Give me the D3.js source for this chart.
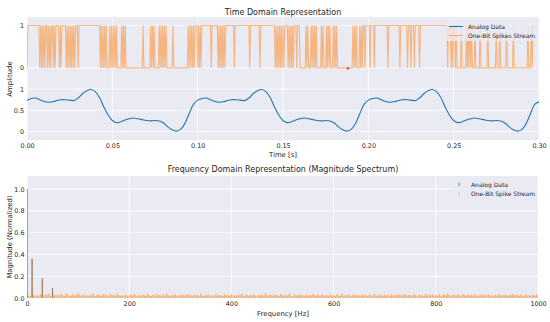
<!DOCTYPE html>
<html><head><meta charset="utf-8">
<script src="https://cdn.jsdelivr.net/npm/d3@7"></script>
<style>body{margin:0;background:#fff}svg{display:block}text{font-family:"DejaVu Sans",sans-serif;fill:#262626}</style>
</head><body><svg id="c" width="550" height="322"></svg>
<script>
// ---------- DATA ----------
// Analog signal, sampled every 2.5 ms from 0 to 0.30 s
const analogStep = 0.0025;
const analogValues = [
 0.73,0.78,0.79,0.75,0.71,0.69,0.70,0.73,0.75,0.75,0.74,0.73,0.79,0.89,0.96,0.99,0.94,0.80,0.58,0.39,
 0.26,0.21,0.23,0.27,0.30,0.32,0.30,0.28,0.26,0.25,0.26,0.25,0.20,0.11,0.04,0.01,0.05,0.19,0.42,0.64,
 0.74,0.78,0.79,0.75,0.71,0.69,0.70,0.73,0.75,0.75,0.74,0.73,0.79,0.89,0.96,0.99,0.94,0.80,0.58,0.39,
 0.26,0.21,0.23,0.27,0.30,0.32,0.30,0.28,0.26,0.25,0.26,0.25,0.20,0.11,0.04,0.01,0.05,0.19,0.42,0.64,
 0.74,0.78,0.79,0.75,0.71,0.69,0.70,0.73,0.75,0.75,0.74,0.73,0.79,0.89,0.96,0.99,0.94,0.80,0.58,0.39,
 0.26,0.21,0.23,0.27,0.30,0.32,0.30,0.28,0.26,0.25,0.26,0.25,0.20,0.11,0.04,0.01,0.05,0.19,0.42,0.64,
 0.70
];
// One-bit spike stream, one bit every 0.5 ms (each string = 50 ms)
const spikeStep = 0.0005;
const spikeBits = [
 "0111111111"+"1111101010"+"1011010101"+"1010111101"+"0111110101"+"0101010111"+"0111111111"+"1111111111"+"1111110101"+"0101000101",
 "0101010000"+"0101010000"+"0000000000"+"0000001000"+"0000010101"+"0000010101"+"0101000000"+"0100000000"+"0000000001"+"0101010111",
 "0101011111"+"1111110111"+"1111010101"+"0101111111"+"1110111111"+"1111111111"+"1011111111"+"1110111111"+"1111111111"+"1010101010",
 "1011110101"+"0101110111"+"0000000101"+"0001010101"+"0000010100"+"0101010001"+"0101000000"+"0000000000"+"0010101000"+"1010110111",
 "1101111011"+"1111111111"+"1110111111"+"1111111011"+"1111110111"+"0111011111"+"0111111111"+"1111111111"+"1111111111"+"1110111010",
 "1101000001"+"0000010101"+"0100010000"+"0100000000"+"1000000000"+"1000100000"+"0010000000"+"1000000000"+"0000000100"+"0101111111"
];
const spikeOffset = 1.5;
const redMarker = [[0.188, 0]];
const timeTicks = [0, 0.05, 0.10, 0.15, 0.20, 0.25, 0.30];
const ampTicks = [0, 0.5, 1, 1.5, 2.5];
const ampTickLabels = ["0", "0.5", "1", "0", "1"];

// Spectrum
const freqBinHz = 1000 / 300;
const analogFreqs = [0, 10, 30, 50];
const analogMags = [1.0, 0.36, 0.18, 0.09];
// one-bit spectrum magnitude per bin (x 0.001), bins 0..300
const spikeMagMilli = [
 1000,22,18,355,25,16,27,19,31,178,21,33,24,38,18,88,29,20,32,17,36,23,19,42,26,17,22,34,20,28,
 48,24,18,35,21,27,16,30,22,39,19,25,33,18,24,37,21,28,16,34,22,30,19,41,25,18,27,21,33,17,
 23,31,19,36,22,15,28,20,32,25,18,38,23,19,30,16,35,22,27,20,31,18,44,24,19,28,22,34,16,25,
 20,32,24,18,37,22,28,19,31,15,27,21,40,23,18,30,22,33,19,25,16,36,21,28,24,18,32,22,27,19,
 34,21,25,16,30,23,39,19,22,31,18,27,21,35,24,16,28,22,33,19,46,21,25,30,18,33,22,27,19,36,
 24,16,30,21,40,22,18,31,25,19,34,23,28,16,32,21,27,22,37,18,25,30,19,33,24,21,28,16,35,22,
 27,19,31,24,18,38,21,28,22,32,16,25,34,21,30,24,19,36,22,27,18,31,25,21,41,19,28,24,33,18,
 25,22,31,16,35,21,27,24,32,19,30,22,37,18,25,28,21,34,24,16,31,22,27,19,38,21,30,24,33,18,
 28,22,35,19,25,31,21,40,24,18,30,27,21,33,22,16,36,25,19,31,24,28,21,37,18,27,22,32,19,30,
 24,34,21,25,16,31,22,38,19,28,24,33,18,27,22,36,21,30,25,19,32,24,16,35,22,27,21,31,19,34,25
];
const freqTicks = [0, 200, 400, 600, 800, 1000];
const magTicks = [0, 0.2, 0.4, 0.6, 0.8, 1.0];

// ---------- DRAW ----------
const svg = d3.select("#c");
const BLUE = "#1f77b4", ORANGE = "#ff7f0e", BG = "#eaeaf2";
const TICK_FS = 6.4;
const defs = svg.append("defs");
defs.append("clipPath").attr("id", "clipTop").append("rect").attr("x", 27).attr("y", 17).attr("width", 512).attr("height", 123);
defs.append("clipPath").attr("id", "clipBot").append("rect").attr("x", 27).attr("y", 176).attr("width", 511).attr("height", 122);

// Top panel
const x1 = d3.scaleLinear().domain([0, 0.3]).range([27, 539]);
const y1 = d3.scaleLinear().domain([-0.2, 2.7]).range([140, 17]);
const g1 = svg.append("g");
g1.append("rect").attr("x", 27).attr("y", 17).attr("width", 512).attr("height", 123).attr("fill", BG);
g1.append("g").selectAll("line").data(timeTicks).join("line")
  .attr("x1", d => x1(d)).attr("x2", d => x1(d)).attr("y1", 17).attr("y2", 140)
  .attr("stroke", "#fff").attr("stroke-width", 0.8);
g1.append("g").selectAll("line").data(ampTicks).join("line")
  .attr("x1", 27).attr("x2", 539).attr("y1", d => y1(d)).attr("y2", d => y1(d))
  .attr("stroke", "#fff").attr("stroke-width", 0.8);

const axB1 = d3.axisBottom(x1).tickValues(timeTicks).tickFormat(d3.format(".2f")).tickSize(0).tickPadding(3);
const gx1 = g1.append("g").attr("transform", "translate(0,140)").call(axB1);
const axL1 = d3.axisLeft(y1).tickValues(ampTicks).tickFormat((d, i) => ampTickLabels[i]).tickSize(0).tickPadding(3);
const gy1 = g1.append("g").attr("transform", "translate(27,0)").call(axL1);
[gx1, gy1].forEach(g => { g.select(".domain").remove(); g.selectAll("text").attr("font-size", TICK_FS).style("fill", "#262626"); });

const p1 = g1.append("g").attr("clip-path", "url(#clipTop)");
// spike stream
const bits = spikeBits.join("").split("").map(Number);
const spikeLine = d3.line().x((d, i) => x1(i * spikeStep)).y(d => y1(d + spikeOffset));
p1.append("path").datum(bits).attr("d", spikeLine).attr("fill", "none")
  .attr("stroke", ORANGE).attr("stroke-opacity", 0.5).attr("stroke-width", 1.1);
// analog
const analogLine = d3.line().x((d, i) => x1(i * analogStep)).y(d => y1(d)).curve(d3.curveCatmullRom);
p1.append("path").datum(analogValues).attr("d", analogLine).attr("fill", "none")
  .attr("stroke", BLUE).attr("stroke-width", 1.1);
p1.selectAll("rect.mk").data(redMarker).join("rect").attr("class", "mk")
  .attr("x", d => x1(d[0]) - 1).attr("y", d => y1(d[1] + spikeOffset) - 0.5).attr("width", 2).attr("height", 2).attr("fill", "#e8262a");

// top legend
const lg1 = g1.append("g");
lg1.append("rect").attr("x", 445).attr("y", 20).attr("width", 93).attr("height", 21).attr("rx", 2)
  .attr("fill", BG).attr("fill-opacity", 0.8);
lg1.append("line").attr("x1", 449).attr("x2", 463).attr("y1", 26.5).attr("y2", 26.5).attr("stroke", BLUE).attr("stroke-width", 1.1);
lg1.append("line").attr("x1", 449).attr("x2", 463).attr("y1", 35.5).attr("y2", 35.5).attr("stroke", ORANGE).attr("stroke-opacity", 0.5).attr("stroke-width", 1.1);
lg1.append("text").attr("x", 468).attr("y", 28.7).attr("font-size", 6).text("Analog Data");
lg1.append("text").attr("x", 468).attr("y", 37.7).attr("font-size", 6).text("One-Bit Spikes Stream");

svg.append("text").attr("x", 283).attr("y", 14.5).attr("text-anchor", "middle").attr("font-size", 8).text("Time Domain Representation");
svg.append("text").attr("x", 283).attr("y", 157).attr("text-anchor", "middle").attr("font-size", 6.9).text("Time [s]");
svg.append("text").attr("transform", "translate(12,79) rotate(-90)").attr("text-anchor", "middle").attr("font-size", 6.9).text("Amplitude");

// Bottom panel
const x2 = d3.scaleLinear().domain([0, 1000]).range([27, 538]);
const y2 = d3.scaleLinear().domain([0, 1.12]).range([298, 176]);
const g2 = svg.append("g");
g2.append("rect").attr("x", 27).attr("y", 176).attr("width", 511).attr("height", 122).attr("fill", BG);
g2.append("g").selectAll("line").data(freqTicks).join("line")
  .attr("x1", d => x2(d)).attr("x2", d => x2(d)).attr("y1", 176).attr("y2", 298)
  .attr("stroke", "#fff").attr("stroke-width", 0.8);
g2.append("g").selectAll("line").data(magTicks).join("line")
  .attr("x1", 27).attr("x2", 538).attr("y1", d => y2(d)).attr("y2", d => y2(d))
  .attr("stroke", "#fff").attr("stroke-width", 0.8);
const gx2 = g2.append("g").attr("transform", "translate(0,298)")
  .call(d3.axisBottom(x2).tickValues(freqTicks).tickFormat(d3.format("d")).tickSize(0).tickPadding(3));
const gy2 = g2.append("g").attr("transform", "translate(27,0)")
  .call(d3.axisLeft(y2).tickValues(magTicks).tickFormat(d3.format(".1f")).tickSize(0).tickPadding(2.5));
[gx2, gy2].forEach(g => { g.select(".domain").remove(); g.selectAll("text").attr("font-size", TICK_FS).style("fill", "#262626"); });

const p2 = g2.append("g").attr("clip-path", "url(#clipBot)");
p2.append("g").selectAll("line").data(analogFreqs).join("line")
  .attr("x1", d => x2(d)).attr("x2", d => x2(d)).attr("y1", y2(0)).attr("y2", (d, i) => y2(analogMags[i]))
  .attr("stroke", BLUE).attr("stroke-width", 1);
p2.append("g").selectAll("line").data(spikeMagMilli).join("line")
  .attr("x1", (d, i) => x2(i * freqBinHz)).attr("x2", (d, i) => x2(i * freqBinHz))
  .attr("y1", y2(0)).attr("y2", d => y2(d / 1000))
  .attr("stroke", ORANGE).attr("stroke-opacity", 0.6).attr("stroke-width", 1.3);

// bottom legend
const lg2 = g2.append("g");
lg2.append("rect").attr("x", 452).attr("y", 179).attr("width", 84).attr("height", 20).attr("rx", 2)
  .attr("fill", BG).attr("fill-opacity", 0.8);
lg2.append("line").attr("x1", 459).attr("x2", 459).attr("y1", 182.5).attr("y2", 186).attr("stroke", BLUE).attr("stroke-width", 0.8);
lg2.append("line").attr("x1", 459).attr("x2", 459).attr("y1", 192).attr("y2", 195.5).attr("stroke", ORANGE).attr("stroke-opacity", 0.6).attr("stroke-width", 0.8);
lg2.append("text").attr("x", 471).attr("y", 186.6).attr("font-size", 6).text("Analog Data");
lg2.append("text").attr("x", 471).attr("y", 196).attr("font-size", 6).text("One-Bit Spike Stream");

svg.append("text").attr("x", 283).attr("y", 171.5).attr("text-anchor", "middle").attr("font-size", 8).text("Frequency Domain Representation (Magnitude Spectrum)");
svg.append("text").attr("x", 283).attr("y", 316).attr("text-anchor", "middle").attr("font-size", 6.9).text("Frequency [Hz]");
svg.append("text").attr("transform", "translate(11.5,237) rotate(-90)").attr("text-anchor", "middle").attr("font-size", 6.9).text("Magnitude (Normalized)");
</script></body></html>
